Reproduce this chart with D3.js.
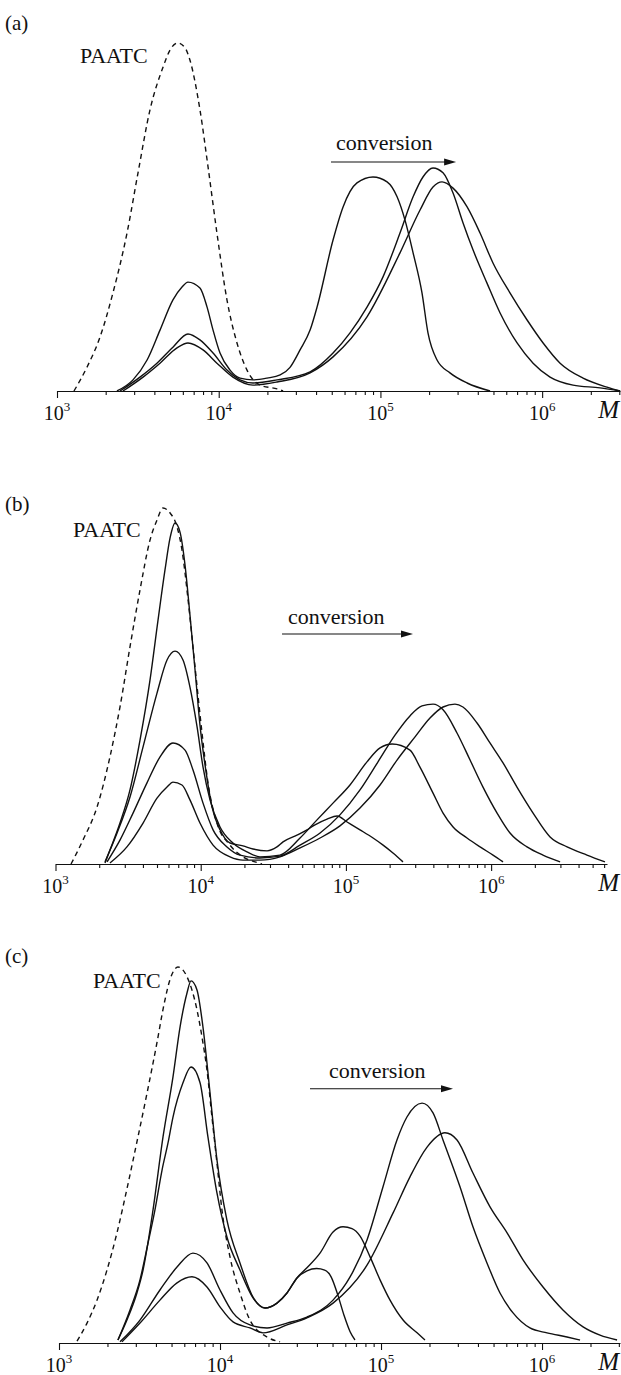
<!DOCTYPE html>
<html>
<head>
<meta charset="utf-8">
<script src="https://cdn.jsdelivr.net/npm/d3@7"></script>
<style>
  body { margin: 0; background: #fff; }
  svg { display: block; }
  text { font-family: 'Liberation Serif', 'Times New Roman', serif; fill: #111; }
</style>
</head>
<body>
<div id="chart"></div>
<script>
// every point is [log10 M, w] with w relative to the PAATC peak (= 100)

// panel (a)
var paatcA = [[3.105,0],[3.186,6.9],[3.266,15.5],[3.346,28.2],[3.433,45.4],[3.501,62.7],[3.575,80.8],[3.656,93.1],[3.699,98.0],[3.748,100],[3.792,98.6],[3.822,95.1],[3.884,80.8],[3.934,64.4],[3.989,45.4],[4.051,26.2],[4.113,13.8],[4.175,6.0],[4.255,1.7],[4.361,0.6],[4.398,0]];
var runA1 = [[3.371,0],[3.470,3.2],[3.557,8.9],[3.637,17.5],[3.717,26.2],[3.773,29.9],[3.810,31.3],[3.884,29.6],[3.928,24.1],[3.965,17.5],[4.008,10.9],[4.070,6.0],[4.132,3.7],[4.212,3.2],[4.299,3.7],[4.380,4.6],[4.441,6.8],[4.503,11.8],[4.565,17.5],[4.608,24.1],[4.707,43.4],[4.769,52.9],[4.855,59.8],[4.954,61.5],[5.041,60.1],[5.103,55.8],[5.152,49.1],[5.202,39.7],[5.257,28.2],[5.294,16.7],[5.350,8.9],[5.430,5.2],[5.536,2.3],[5.678,0]];
var runA2 = [[3.390,0],[3.513,4.0],[3.618,8.0],[3.717,12.6],[3.810,16.4],[3.884,14.7],[3.965,10.9],[4.051,6.0],[4.132,3.2],[4.212,2.3],[4.361,3.2],[4.565,5.5],[4.707,10.9],[4.812,16.7],[4.917,24.1],[5.016,32.8],[5.121,45.4],[5.202,55.8],[5.263,61.5],[5.325,64.1],[5.387,62.7],[5.449,56.9],[5.511,48.3],[5.573,40.5],[5.659,31.0],[5.740,22.4],[5.845,13.8],[5.944,8.0],[6.049,4.0],[6.191,1.7],[6.358,0.9],[6.482,0]];
var runA3 = [[3.408,0],[3.532,4.0],[3.637,8.0],[3.742,12.4],[3.810,13.8],[3.903,11.8],[3.989,8.0],[4.088,4.0],[4.212,1.7],[4.361,2.6],[4.565,5.2],[4.707,9.8],[4.917,21.3],[5.121,39.7],[5.245,52.0],[5.325,58.6],[5.381,60.1],[5.449,58.3],[5.536,52.9],[5.616,45.4],[5.696,36.8],[5.801,28.2],[5.907,20.4],[6.006,13.8],[6.111,8.0],[6.253,3.7],[6.401,1.1],[6.482,0]];

// panel (b)
var paatcB = [[3.107,0],[3.189,6.7],[3.286,16.0],[3.375,30.1],[3.444,44.1],[3.513,61.0],[3.582,77.0],[3.651,91.0],[3.699,96.6],[3.740,100],[3.789,98.6],[3.837,94.7],[3.871,88.2],[3.913,74.2],[3.961,55.3],[4.009,36.8],[4.050,22.8],[4.112,11.5],[4.202,5.3],[4.291,2.0],[4.374,0.6],[4.422,0]];
var runB1 = [[3.341,0.3],[3.375,3.9],[3.444,11.5],[3.513,20.8],[3.582,34.8],[3.651,51.7],[3.706,68.5],[3.754,82.6],[3.789,91.6],[3.823,95.8],[3.857,93.3],[3.892,84.0],[3.926,69.9],[3.961,54.5],[3.995,39.0],[4.037,25.8],[4.078,16.0],[4.133,9.6],[4.202,5.9],[4.291,5.1],[4.360,4.2],[4.457,3.7],[4.525,4.8],[4.567,6.2],[4.663,8.1],[4.732,9.6],[4.787,11.0],[4.870,12.6],[4.939,13.5],[5.008,11.8],[5.097,9.6],[5.187,7.3],[5.256,5.3],[5.324,3.1],[5.393,0.6]];
var runB2 = [[3.341,0.6],[3.424,8.7],[3.513,18.8],[3.603,32.9],[3.699,48.0],[3.768,57.3],[3.823,59.8],[3.878,57.3],[3.926,49.7],[3.975,38.5],[4.016,27.2],[4.064,18.0],[4.133,10.4],[4.222,5.9],[4.319,3.4],[4.408,2.0],[4.546,2.5],[4.684,7.3],[4.801,12.4],[4.911,17.1],[5.028,22.2],[5.145,28.7],[5.235,32.6],[5.318,33.7],[5.441,32.0],[5.510,27.2],[5.600,19.9],[5.669,14.3],[5.738,10.4],[5.834,7.3],[5.924,4.8],[6.013,2.5],[6.082,0.6]];
var runB3 = [[3.355,0.6],[3.444,6.7],[3.534,14.3],[3.630,22.8],[3.720,30.1],[3.809,34.0],[3.892,32.0],[3.947,26.4],[4.016,17.1],[4.085,9.6],[4.181,4.8],[4.271,2.5],[4.408,1.7],[4.546,2.2],[4.684,5.3],[4.822,8.7],[4.959,13.8],[5.097,20.8],[5.221,28.7],[5.338,36.2],[5.441,41.6],[5.524,44.4],[5.600,44.9],[5.669,43.3],[5.765,36.8],[5.855,29.2],[5.944,21.6],[6.041,14.3],[6.130,8.7],[6.247,4.8],[6.357,2.5],[6.475,0.6]];
var runB4 = [[3.375,0.3],[3.492,4.8],[3.603,11.5],[3.699,18.5],[3.768,21.6],[3.809,23.0],[3.871,22.2],[3.926,18.0],[3.995,11.5],[4.085,5.3],[4.202,2.0],[4.291,1.1],[4.408,1.1],[4.546,2.0],[4.684,4.5],[4.822,7.3],[4.959,10.7],[5.097,15.7],[5.235,22.2],[5.352,29.2],[5.476,35.7],[5.579,41.0],[5.669,44.1],[5.751,44.9],[5.806,44.1],[5.903,39.6],[5.992,34.0],[6.082,28.4],[6.178,21.6],[6.289,14.3],[6.406,7.6],[6.523,4.8],[6.660,2.5],[6.784,0.6]];

// panel (c)
var paatcC = [[3.112,0.5],[3.174,5.3],[3.236,11.4],[3.298,19.4],[3.360,29.3],[3.422,41.0],[3.484,53.5],[3.547,66.5],[3.609,80.0],[3.652,90.0],[3.689,96.6],[3.739,100],[3.795,97.4],[3.857,88.6],[3.888,81.4],[3.919,72.6],[3.950,60.1],[3.981,47.9],[4.012,35.4],[4.062,22.9],[4.124,13.3],[4.186,6.1],[4.292,1.6],[4.373,0.3]];
var runC1 = [[3.366,0.8],[3.422,6.1],[3.484,13.3],[3.522,19.4],[3.584,35.4],[3.646,54.8],[3.708,70.8],[3.752,84.1],[3.795,93.1],[3.820,96.3],[3.857,93.9],[3.894,84.1],[3.938,66.5],[3.981,48.7],[4.043,32.7],[4.124,21.3],[4.205,12.2],[4.280,9.3],[4.354,10.6],[4.416,13.3],[4.478,17.3],[4.540,19.2],[4.600,19.8],[4.650,19.4],[4.690,17.6],[4.730,13.0],[4.770,7.4],[4.808,3.0],[4.838,0.8]];
var runC2 = [[3.366,0.8],[3.441,8.8],[3.503,16.8],[3.553,26.6],[3.596,35.4],[3.640,46.0],[3.677,53.2],[3.708,60.1],[3.770,69.2],[3.820,73.4],[3.876,69.2],[3.925,54.8],[3.981,39.9],[4.043,28.2],[4.124,19.4],[4.205,12.0],[4.280,9.3],[4.354,10.6],[4.416,13.3],[4.478,17.3],[4.540,20.0],[4.621,23.9],[4.702,29.5],[4.764,30.9],[4.820,30.4],[4.870,28.4],[4.932,22.9],[4.994,16.8],[5.056,11.4],[5.137,6.1],[5.224,2.7],[5.273,0.8]];
var runC3 = [[3.379,0.3],[3.503,6.1],[3.627,14.1],[3.733,20.2],[3.832,23.9],[3.919,21.3],[4.000,14.1],[4.081,8.0],[4.186,4.8],[4.292,4.0],[4.416,5.3],[4.540,6.9],[4.702,11.4],[4.807,17.5],[4.913,27.4],[5.012,41.5],[5.099,54.0],[5.161,60.1],[5.255,63.8],[5.323,61.2],[5.385,54.0],[5.491,41.5],[5.571,30.9],[5.658,21.3],[5.739,13.3],[5.820,8.0],[5.925,4.0],[6.031,2.7],[6.155,1.6],[6.236,0.8]];
var runC4 = [[3.391,0.3],[3.503,5.3],[3.627,11.4],[3.733,16.0],[3.826,17.6],[3.919,14.9],[4.000,9.6],[4.081,5.6],[4.186,4.0],[4.267,2.7],[4.416,4.8],[4.540,6.7],[4.702,10.6],[4.913,20.7],[5.075,34.6],[5.180,44.2],[5.286,52.1],[5.397,55.9],[5.472,54.0],[5.571,45.2],[5.677,36.2],[5.783,29.3],[5.882,22.1],[6.006,14.9],[6.130,8.8],[6.255,4.3],[6.360,2.1],[6.466,0.8]];

var decades = [3, 4, 5, 6];
var axisMax = [3.03e6, 6.28e6, 3.05e6];

// annotations: [log10 M start, log10 M end, w]
var arrowAt = [[4.694, 5.468, 65.8], [4.560, 5.462, 64.6], [4.559, 5.447, 67.6]];
var convLabelAt = [[4.725, 69.3], [4.601, 67.4], [4.677, 70.5]];
var paatcLabelAt = [[3.142, 94.3], [3.121, 91.9], [3.211, 94.4]];

var panels = [
  {name: '(a)', paatc: paatcA, runs: [runA1, runA2, runA3], left: 57, right: 620, base: 391, top: 43, labelY: 30},
  {name: '(b)', paatc: paatcB, runs: [runB1, runB2, runB3, runB4], left: 55.5, right: 607, base: 864, top: 508, labelY: 511},
  {name: '(c)', paatc: paatcC, runs: [runC1, runC2, runC3, runC4], left: 59, right: 620, base: 1343, top: 967, labelY: 963}
];

var svg = d3.select('#chart').append('svg')
  .attr('width', 621)
  .attr('height', 1375);

function isDecade (v) {
  var l = Math.log10(v);
  return Math.abs(l - Math.round(l)) < 1e-9;
}

panels.forEach(function (p, i) {
  var x = d3.scaleLog().domain([1e3, axisMax[i]]).range([p.left, p.right]);
  var y = d3.scaleLinear().domain([0, 100]).range([p.base, p.top]);
  var g = svg.append('g');

  var line = d3.line()
    .x(function (d) { return x(Math.pow(10, d[0])); })
    .y(function (d) { return y(d[1]); })
    .curve(d3.curveMonotoneX);

  // x axis, ticks hanging below the line
  var ticks = [];
  decades.forEach(function (e) {
    for (var k = 1; k < 10; k++) {
      var v = k * Math.pow(10, e);
      if (v <= axisMax[i] * 1.001) ticks.push(v);
    }
  });
  var ax = g.append('g')
    .attr('transform', 'translate(0,' + p.base + ')')
    .call(d3.axisBottom(x).tickValues(ticks).tickSize(4).tickSizeOuter(0).tickFormat(''));
  ax.select('.domain').attr('stroke', '#111').attr('stroke-width', 1.2);
  ax.selectAll('.tick line')
    .attr('stroke', '#111')
    .attr('stroke-width', 1.1)
    .attr('y2', function (d) { return isDecade(d) ? 7 : 4; });

  decades.forEach(function (e) {
    var t = g.append('text')
      .attr('x', x(Math.pow(10, e)))
      .attr('y', p.base + 29)
      .attr('text-anchor', 'middle')
      .attr('font-size', 20);
    t.append('tspan').text('10');
    t.append('tspan').attr('dy', -9).attr('font-size', 13).text(e);
  });

  g.append('text')
    .attr('x', 619)
    .attr('y', p.base + 27)
    .attr('text-anchor', 'end')
    .attr('font-size', 25)
    .attr('font-style', 'italic')
    .text('M');

  // curves
  g.append('path')
    .datum(p.paatc)
    .attr('d', line)
    .attr('fill', 'none')
    .attr('stroke', '#111')
    .attr('stroke-width', 1.4)
    .attr('stroke-dasharray', '5,4');

  g.selectAll('path.run')
    .data(p.runs)
    .enter().append('path')
    .attr('class', 'run')
    .attr('d', line)
    .attr('fill', 'none')
    .attr('stroke', '#111')
    .attr('stroke-width', 1.4);

  // labels and the conversion arrow
  g.append('text')
    .attr('x', 5)
    .attr('y', p.labelY)
    .attr('font-size', 21)
    .text(p.name);

  g.append('text')
    .attr('x', x(Math.pow(10, paatcLabelAt[i][0])))
    .attr('y', y(paatcLabelAt[i][1]))
    .attr('font-size', 22)
    .text('PAATC');

  g.append('text')
    .attr('x', x(Math.pow(10, convLabelAt[i][0])))
    .attr('y', y(convLabelAt[i][1]))
    .attr('font-size', 22)
    .text('conversion');

  var a = arrowAt[i];
  var x1 = x(Math.pow(10, a[0])), x2 = x(Math.pow(10, a[1])), ya = y(a[2]);
  g.append('line')
    .attr('x1', x1).attr('x2', x2 - 8)
    .attr('y1', ya).attr('y2', ya)
    .attr('stroke', '#111')
    .attr('stroke-width', 1.1);
  g.append('path')
    .attr('d', 'M' + x2 + ',' + ya + 'L' + (x2 - 12) + ',' + (ya - 3.5) + 'L' + (x2 - 12) + ',' + (ya + 3.5) + 'Z')
    .attr('fill', '#111');
});
</script>
</body>
</html>
